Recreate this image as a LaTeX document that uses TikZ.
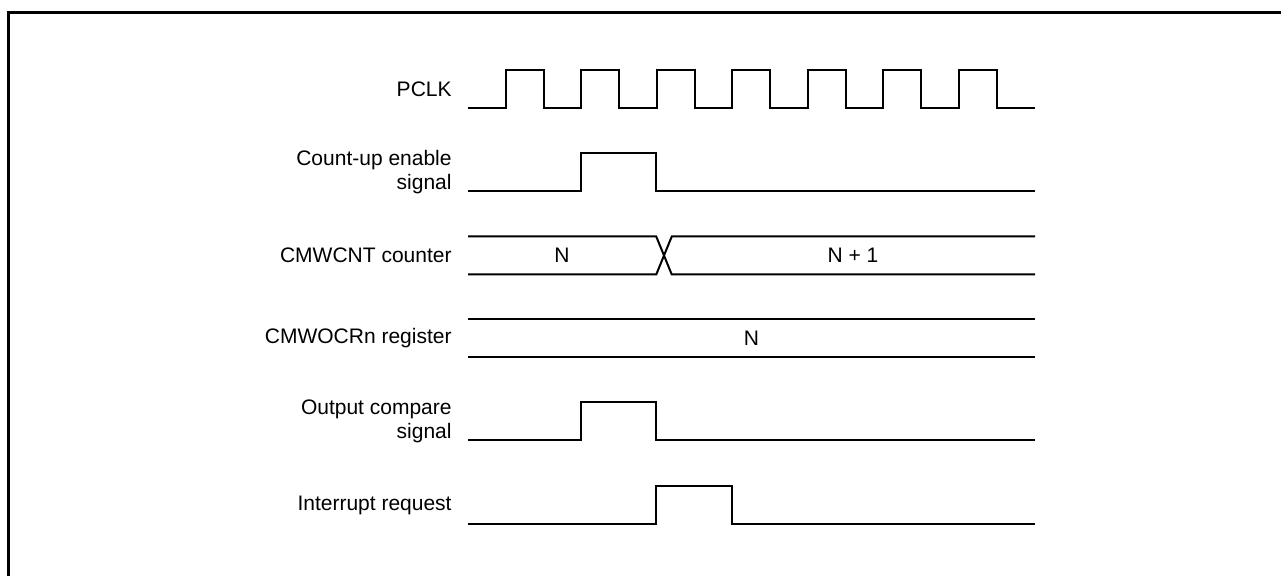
\documentclass[tikz,border=0pt]{standalone}
\usepackage{fontspec}
\setmainfont{Liberation Sans}

\begin{document}
\begin{tikzpicture}[x=0.5pt,y=-0.5pt,
		wave/.style={line width=1pt,line join=miter},
		lbl/.style={anchor=east,align=right,inner sep=0pt,font=\fontsize{10.5}{12}\selectfont},
		val/.style={inner sep=0pt,font=\fontsize{10.5}{12}\selectfont}]
	\useasboundingbox (0,0) rectangle (1281,576);
	% frame
	\draw[line width=1.5pt] (8.3,576) -- (8.3,12.3) -- (1281,12.3);

	% labels
	\node[lbl] (pclk) at (452,89) {PCLK};
	\node[lbl] (cue) at (452,172) {Count-up enable\\signal};
	\node[lbl] (cnt) at (452,255.5) {CMWCNT counter};
	\node[lbl] (ocr) at (452,338.5) {CMWOCRn register};
	\node[lbl] (ocs) at (452,421.5) {Output compare\\signal};
	\node[lbl] (irq) at (452,505) {Interrupt request};

	% PCLK
	\draw[wave] (468,108) \foreach \k in {1,...,7} {
		-- ++(37.75,0) -- ++(0,-38) -- ++(37.75,0) -- ++(0,38)} -- (1035,108);
	% count-up enable
	\draw[wave] (468,191) -- (580.75,191) -- (580.75,153) -- (656.25,153)
		-- (656.25,191) -- (1035,191);
	% CMWCNT
	\draw[wave] (468,236.5) -- (656.25,236.5) -- (671.75,274.5) -- (1035,274.5);
	\draw[wave] (468,274.5) -- (656.25,274.5) -- (671.75,236.5) -- (1035,236.5);
	\node[val] (nval) at (562,255.5) {N};
	\node[val] (nplus) at (853,255.5) {N + 1};
	% CMWOCRn
	\draw[wave] (468,319.5) -- (1035,319.5);
	\draw[wave] (468,357.5) -- (1035,357.5);
	\node[val] (ocrval) at (751.5,338.5) {N};
	% output compare
	\draw[wave] (468,440.5) -- (580.75,440.5) -- (580.75,402.5) -- (656.25,402.5)
		-- (656.25,440.5) -- (1035,440.5);
	% interrupt
	\draw[wave] (468,524) -- (656.25,524) -- (656.25,486) -- (731.75,486)
		-- (731.75,524) -- (1035,524);
\end{tikzpicture}
\end{document}
